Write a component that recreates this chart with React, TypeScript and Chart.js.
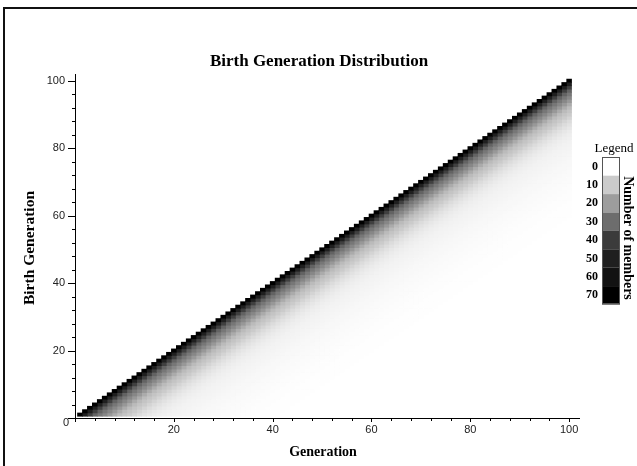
import { useEffect, useRef } from 'react';
import { Chart, registerables } from 'chart.js';

Chart.register(...registerables);

const TITLE = 'Birth Generation Distribution';
const X_TITLE = 'Generation';
const Y_TITLE = 'Birth Generation';
const LEGEND_TITLE = 'Legend';
const LEGEND_AXIS_TITLE = 'Number of members';

const FIRST_GENERATION = 1;
const LAST_GENERATION = 100;

// Number of members of a generation that were born `age` generations earlier
// (index = generation - birth generation), read from the shading of the cells.
const membersByAge = [
  72, 50, 39, 32, 28, 24.5, 21, 17, 13.5, 11.5,
  10, 8.3, 6.8, 5.6, 4.6, 3.8, 3.3, 2.9, 2.5, 2.3,
  2.1, 1.9, 1.7, 1.55, 1.4, 1.3, 1.15, 1.05, 0.95, 0.85,
  0.75, 0.65, 0.55, 0.47, 0.4, 0.33, 0.27, 0.22, 0.17, 0.13,
  0.1, 0.07, 0.05,
];

const legendValues = [0, 10, 20, 30, 40, 50, 60, 70];
const legendGrays = [255, 203, 157, 109, 59, 31, 18, 0];

const xTickValues = [0, 4, 8, 12, 16, 20, 24, 28, 32, 36, 40, 44, 48, 52, 56, 60, 64, 68, 72, 76, 80, 84, 88, 92, 96, 100];
const yTickValues = [0, 4, 8, 12, 16, 20, 24, 28, 32, 36, 40, 44, 48, 52, 56, 60, 64, 68, 72, 76, 80, 84, 88, 92, 96, 100];
const MAJOR_STEP = 20;
const AXIS_MAX = 102;

function grayFor(v: number): number {
  if (v <= legendValues[0]) return legendGrays[0];
  for (let i = 1; i < legendValues.length; i++) {
    if (v <= legendValues[i]) {
      const t = (v - legendValues[i - 1]) / (legendValues[i] - legendValues[i - 1]);
      return Math.round(legendGrays[i - 1] + t * (legendGrays[i] - legendGrays[i - 1]));
    }
  }
  return legendGrays[legendGrays.length - 1];
}
const grayCss = (g: number) => `rgb(${g},${g},${g})`;

const SERIF = '"Liberation Serif", "Times New Roman", serif';
const SANS = '"Liberation Sans", Arial, sans-serif';

const decorPlugin = {
  id: 'decor',
  afterDraw(chart: any) {
    const ctx = chart.ctx as CanvasRenderingContext2D;
    const xs = chart.scales.x;
    const ys = chart.scales.y;
    const area = chart.chartArea;
    ctx.save();
    // outer frame
    ctx.fillStyle = '#111';
    ctx.fillRect(3, 7, chart.width - 3, 2);
    ctx.fillRect(3, 7, 2, chart.height - 7);

    // tick marks
    ctx.strokeStyle = '#000';
    ctx.lineWidth = 1;
    ctx.beginPath();
    for (const v of xTickValues) {
      const px = Math.round(xs.getPixelForValue(v)) + 0.5;
      const len = v % MAJOR_STEP === 0 ? 4 : 3;
      ctx.moveTo(px, area.bottom);
      ctx.lineTo(px, area.bottom + len);
    }
    for (const v of yTickValues) {
      const py = Math.round(ys.getPixelForValue(v)) + 0.5;
      const len = v % MAJOR_STEP === 0 ? 7 : 3;
      ctx.moveTo(area.left - len, py);
      ctx.lineTo(area.left, py);
    }
    ctx.stroke();

    // origin label
    ctx.fillStyle = '#222';
    ctx.font = `11px ${SANS}`;
    ctx.textAlign = 'right';
    ctx.textBaseline = 'middle';
    ctx.fillText('0', 69, area.bottom + 5);

    // titles
    ctx.fillStyle = '#000';
    ctx.textAlign = 'center';
    ctx.font = `bold 17px ${SERIF}`;
    ctx.fillText(TITLE, 319, 62);
    ctx.font = `bold 14px ${SERIF}`;
    ctx.fillText(X_TITLE, 323, 452);
    ctx.save();
    ctx.translate(30, 248);
    ctx.rotate(-Math.PI / 2);
    ctx.font = `bold 15.5px ${SERIF}`;
    ctx.fillText(Y_TITLE, 0, 0);
    ctx.restore();

    // legend
    const boxX = 602;
    const boxW = 18;
    const boxTop = 157.3;
    const rowH = 18.4;
    ctx.font = `13px ${SERIF}`;
    ctx.fillText(LEGEND_TITLE, 614, 149);
    legendValues.forEach((v, i) => {
      ctx.fillStyle = grayCss(legendGrays[i]);
      ctx.fillRect(boxX, boxTop + i * rowH, boxW, rowH);
      ctx.fillStyle = '#000';
      ctx.font = `bold 12px ${SERIF}`;
      ctx.textAlign = 'right';
      ctx.fillText(String(v), 598, boxTop + (i + 0.5) * rowH);
    });
    ctx.strokeStyle = '#555';
    ctx.strokeRect(boxX + 0.5, Math.round(boxTop) + 0.5, boxW - 1, Math.round(rowH * legendValues.length) - 1);
    ctx.save();
    ctx.translate(628, 238);
    ctx.rotate(Math.PI / 2);
    ctx.textAlign = 'center';
    ctx.font = `bold 14px ${SERIF}`;
    ctx.fillStyle = '#000';
    ctx.fillText(LEGEND_AXIS_TITLE, 0, 0);
    ctx.restore();

    ctx.restore();
  },
};

export default function App() {
  const canvasRef = useRef<HTMLCanvasElement | null>(null);

  useEffect(() => {
    if (!canvasRef.current) return;
    const datasets = membersByAge.map((count, age) => {
      const data: { x: number; y: [number, number] }[] = [];
      for (let g = FIRST_GENERATION; g <= LAST_GENERATION; g++) {
        const b = g - age;
        if (b < FIRST_GENERATION) continue;
        data.push({ x: g, y: [b - 0.5, b + 0.5] });
      }
      return {
        label: `age ${age}`,
        data,
        backgroundColor: grayCss(grayFor(count)),
        borderWidth: 0,
        grouped: false,
        barPercentage: 1,
        categoryPercentage: 1,
        inflateAmount: 0.3,
      };
    });

    const chart = new Chart(canvasRef.current, {
      type: 'bar',
      data: { datasets: datasets as any },
      options: {
        animation: false,
        responsive: false,
        devicePixelRatio: 1,
        layout: { padding: { left: 0, right: 58, top: 74, bottom: 0 } },
        plugins: { legend: { display: false }, tooltip: { enabled: false }, title: { display: false } },
        scales: {
          x: {
            type: 'linear',
            min: 0,
            max: AXIS_MAX,
            offset: false,
            grid: { display: true, drawOnChartArea: false, drawTicks: true, tickLength: 4, color: 'rgba(0,0,0,0)', tickColor: 'rgba(0,0,0,0)', offset: false },
            border: { display: true, color: '#000', width: 1 },
            ticks: {
              autoSkip: false,
              maxRotation: 0,
              padding: 1,
              color: '#222',
              font: { family: SANS, size: 11 },
              callback: (v: any) => (Number(v) % MAJOR_STEP === 0 && Number(v) !== 0 ? String(v) : ''),
            },
            afterBuildTicks: (s: any) => { s.ticks = xTickValues.map((v) => ({ value: v })); },
            afterFit: (s: any) => { s.height = 48; },
          },
          y: {
            type: 'linear',
            min: 0,
            max: AXIS_MAX,
            grid: { display: true, drawOnChartArea: false, drawTicks: true, tickLength: 7, color: 'rgba(0,0,0,0)', tickColor: 'rgba(0,0,0,0)' },
            border: { display: true, color: '#000', width: 1 },
            ticks: {
              autoSkip: false,
              padding: 3,
              color: '#222',
              font: { family: SANS, size: 11 },
              callback: (v: any) => (Number(v) % MAJOR_STEP === 0 && Number(v) !== 0 ? String(v) : ''),
            },
            afterBuildTicks: (s: any) => { s.ticks = yTickValues.map((v) => ({ value: v })); },
            afterFit: (s: any) => { s.width = 75; },
          },
        },
      } as any,
      plugins: [decorPlugin],
    });
    return () => chart.destroy();
  }, []);

  return (
    <div style={{ position: 'fixed', left: 0, top: 0, width: 637, height: 466, background: '#fff' }}>
      <canvas ref={canvasRef} width={637} height={466} style={{ display: 'block' }} />
    </div>
  );
}
